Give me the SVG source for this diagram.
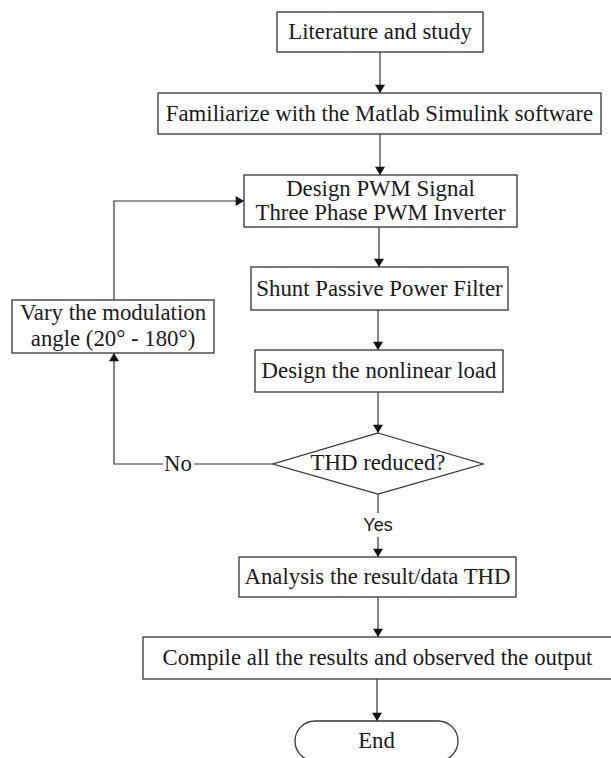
<svg xmlns="http://www.w3.org/2000/svg" width="611" height="758" viewBox="0 0 611 758">
<style>
.box{fill:#fff;stroke:#333;stroke-width:1.3}
.t{font-family:"Liberation Serif","Times New Roman",serif;font-size:22.8px;fill:#1a1a1a;text-anchor:middle}
.s{font-family:"Liberation Sans",Arial,sans-serif;font-size:18px;fill:#1a1a1a;text-anchor:middle}
.c{fill:none;stroke:#333;stroke-width:1.2}
</style>
<defs>
<marker id="ah" viewBox="0 0 10 12" refX="10" refY="6" markerWidth="12" markerHeight="10" markerUnits="userSpaceOnUse" orient="auto">
<path d="M0,0 L10,6 L0,12 Z" fill="#111"/>
</marker>
</defs>
<rect width="611" height="758" fill="#fff"/>
<g id="connectors">
<line class="c" x1="380" y1="52" x2="380" y2="93" marker-end="url(#ah)"/>
<line class="c" x1="380" y1="134" x2="380" y2="175" marker-end="url(#ah)"/>
<line class="c" x1="379" y1="227" x2="379" y2="267" marker-end="url(#ah)"/>
<line class="c" x1="378" y1="310" x2="378" y2="350" marker-end="url(#ah)"/>
<line class="c" x1="378" y1="392" x2="378" y2="433" marker-end="url(#ah)"/>
<line class="c" x1="378" y1="494" x2="378" y2="513"/>
<line class="c" x1="378" y1="537" x2="378" y2="557" marker-end="url(#ah)"/>
<line class="c" x1="378" y1="597" x2="378" y2="637" marker-end="url(#ah)"/>
<line class="c" x1="377" y1="679" x2="377" y2="721" marker-end="url(#ah)"/>
<polyline class="c" points="114,300 114,201 244,201" marker-end="url(#ah)"/>
<polyline class="c" points="273,464 194,464"/>
<polyline class="c" points="163,464 114,464 114,353" marker-end="url(#ah)"/>
<text class="t" x="178" y="471" font-size="22">No</text>
<text class="s" x="378" y="531">Yes</text>
</g>
<g id="n1">
<rect class="box" x="277" y="12" width="206" height="40"/>
<text class="t" x="380" y="39">Literature and study</text>
</g>
<g id="n2">
<rect class="box" x="158" y="93" width="443" height="41"/>
<text class="t" x="379.5" y="121">Familiarize with the Matlab Simulink software</text>
</g>
<g id="n3">
<rect class="box" x="244" y="175" width="273" height="52"/>
<text class="t" x="380.5" y="196">Design PWM Signal</text>
<text class="t" x="380.5" y="220">Three Phase PWM Inverter</text>
</g>
<g id="n4">
<rect class="box" x="12" y="300" width="202" height="53"/>
<text class="t" x="113" y="320">Vary the modulation</text>
<text class="t" x="113" y="346">angle (20° - 180°)</text>
</g>
<g id="n5">
<rect class="box" x="251" y="267" width="257" height="43"/>
<text class="t" x="379.5" y="296">Shunt Passive Power Filter</text>
</g>
<g id="n6">
<rect class="box" x="255" y="350" width="248" height="42"/>
<text class="t" x="379" y="378">Design the nonlinear load</text>
</g>
<g id="n7">
<polygon class="box" points="378,433 483,464 378,494 273,464"/>
<text class="t" x="378" y="470">THD reduced?</text>
</g>
<g id="n8">
<rect class="box" x="239" y="557" width="277" height="40"/>
<text class="t" x="377.5" y="584">Analysis the result/data THD</text>
</g>
<g id="n9">
<rect class="box" x="143" y="637" width="472" height="42"/>
<text class="t" x="377.5" y="665">Compile all the results and observed the output</text>
</g>
<g id="n10">
<rect class="box" x="295" y="721" width="163" height="40" rx="20" ry="20"/>
<text class="t" x="376.5" y="748">End</text>
</g>
</svg>
